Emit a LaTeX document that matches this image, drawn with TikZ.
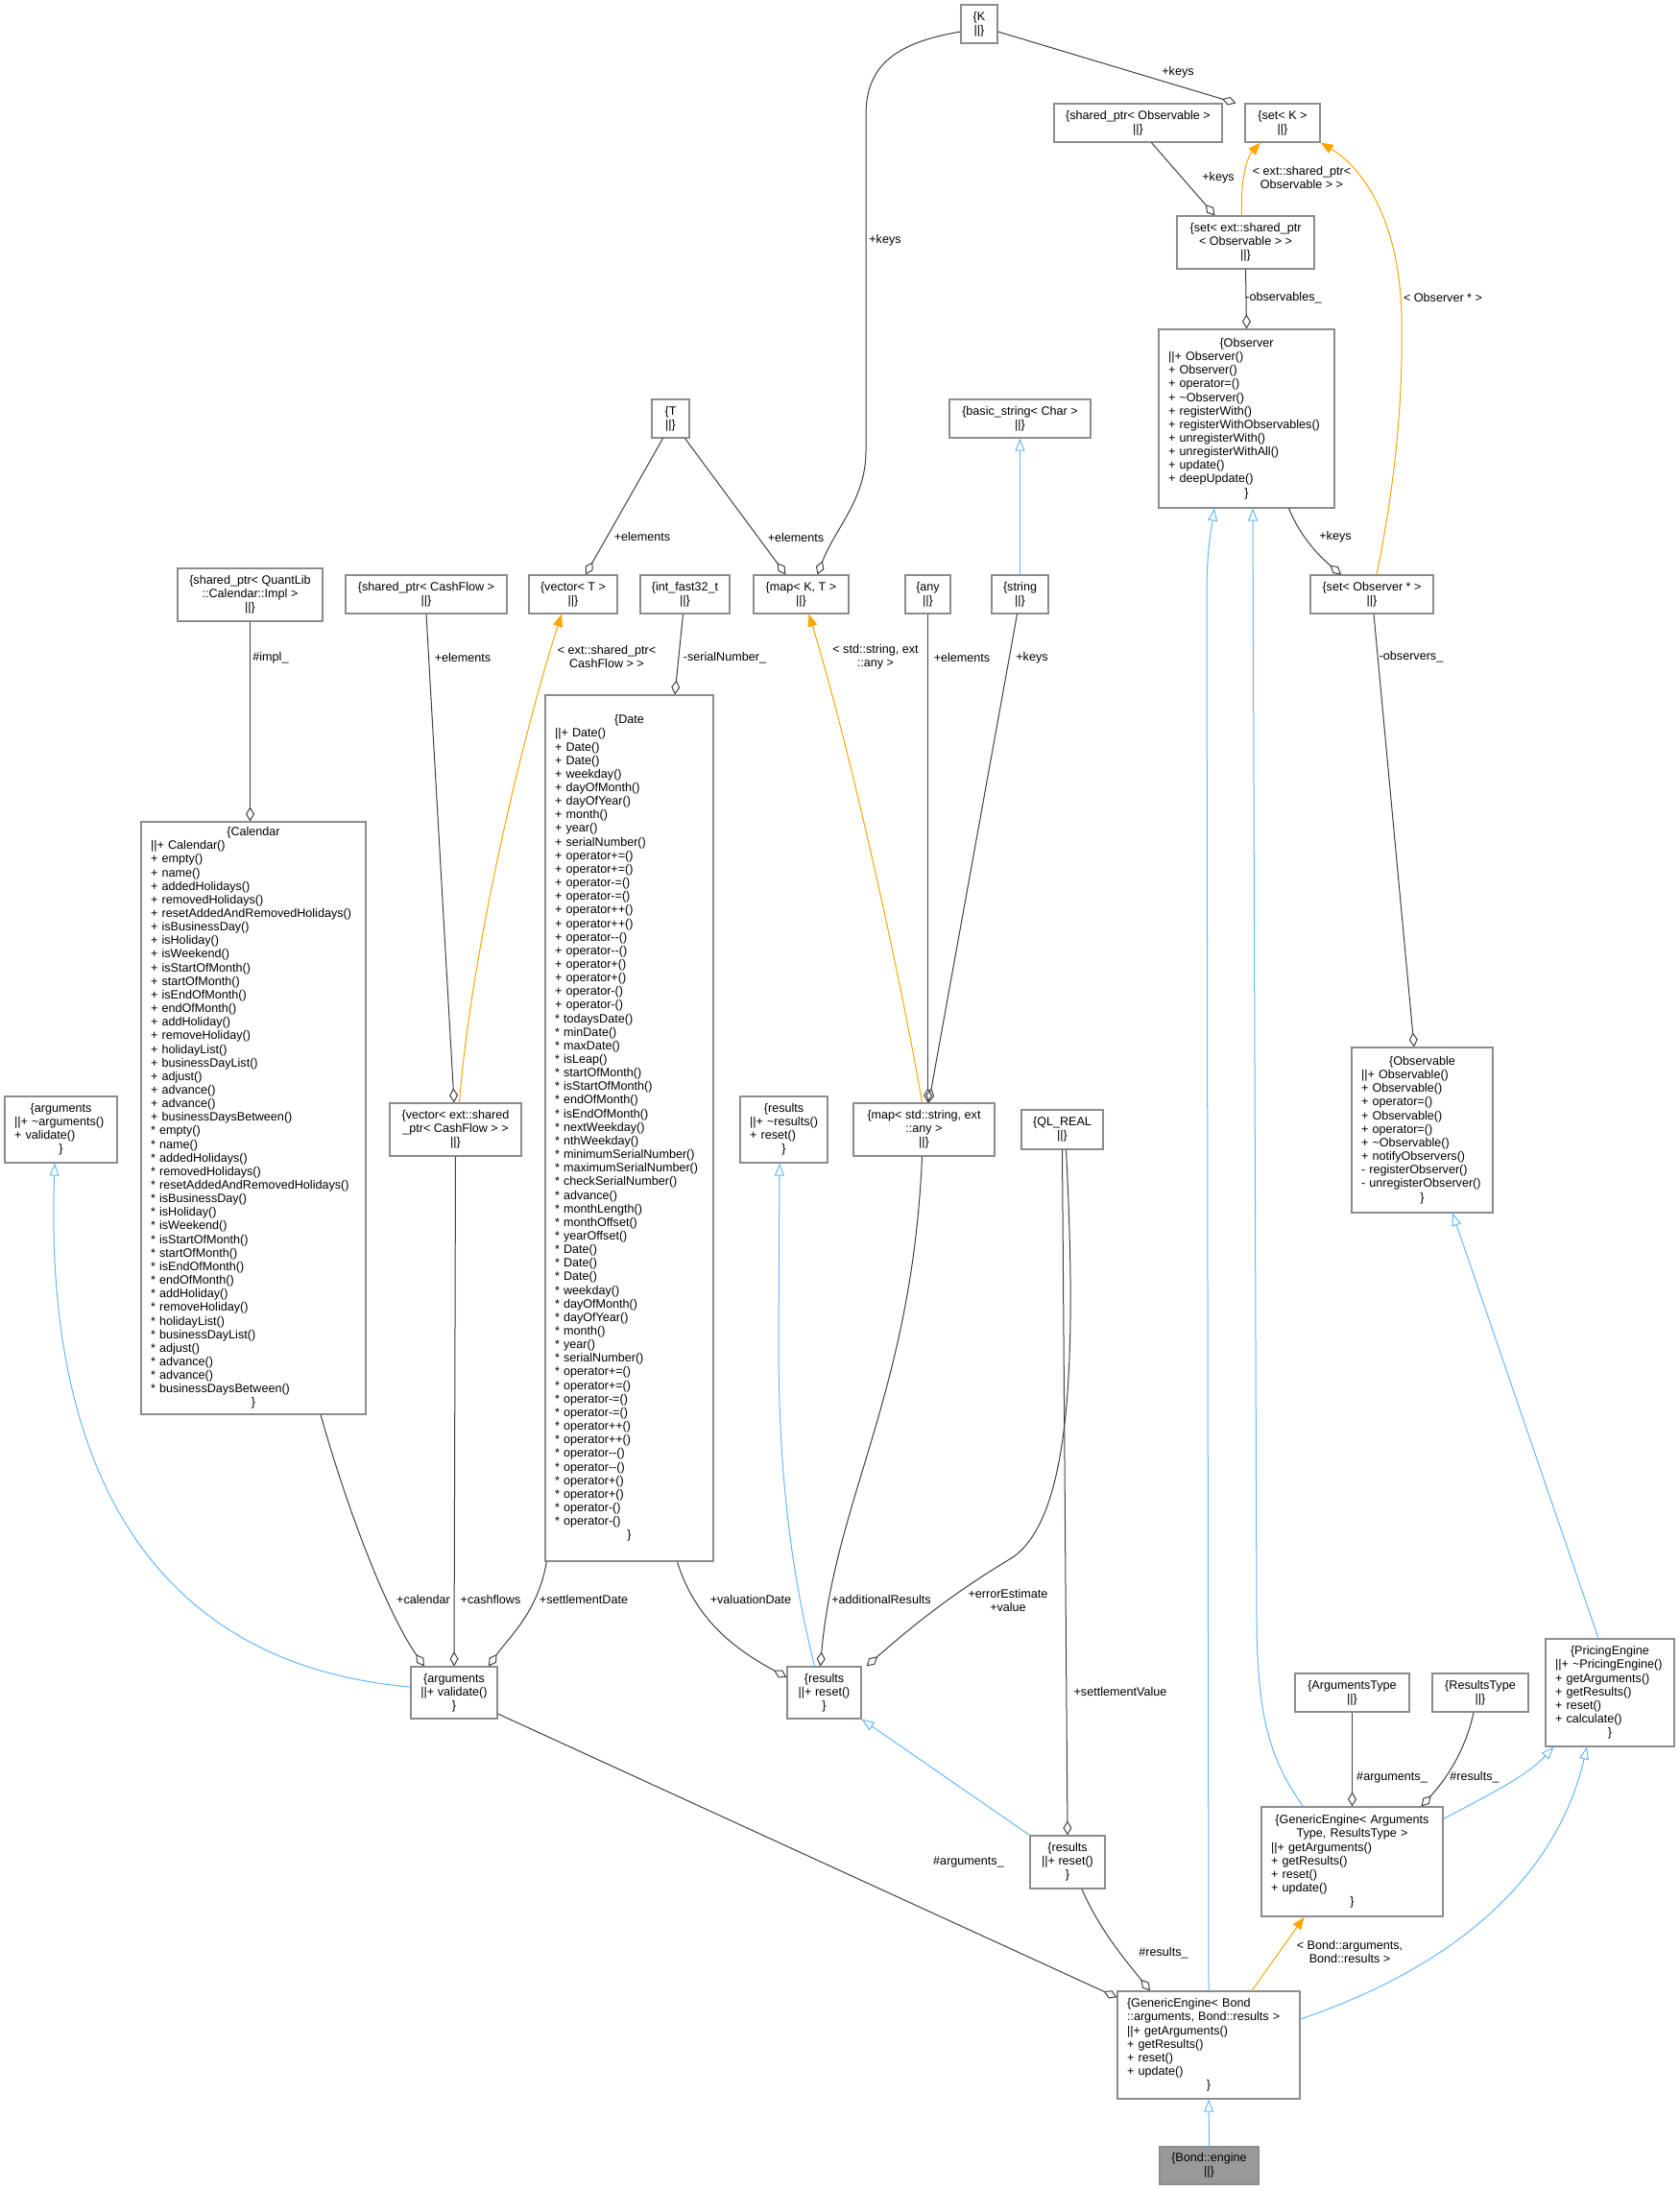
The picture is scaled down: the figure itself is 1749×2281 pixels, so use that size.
\documentclass[tikz,border=0pt]{standalone}
\usepackage{fontspec}
\setmainfont{Liberation Sans}
\usetikzlibrary{arrows.meta}
\definecolor{edgegray}{HTML}{404040}
\definecolor{boxgray}{HTML}{8C8C8C}
\definecolor{inhblue}{HTML}{63B8FF}
\definecolor{tmplorange}{HTML}{FFA500}
\definecolor{selfgray}{HTML}{999999}
\newcommand{\dxfont}{\fontsize{12.6}{14.15}\selectfont}
\newcommand{\hd}[1]{\makebox[\linewidth]{#1}}

\begin{document}
\begin{tikzpicture}[x=1pt,y=-1pt]
  \tikzstyle{cls}=[draw=boxgray,line width=1.2pt,fill=white,inner sep=0pt,font=\dxfont,align=center]
  \tikzstyle{mem}=[cls,align=left,inner xsep=10pt]
  \tikzstyle{lbl}=[font=\dxfont,inner sep=0pt,align=center]
  \tikzstyle{has}=[draw=edgegray,line width=1pt,-{Diamond[open,length=15pt,width=9pt]}]
  \tikzstyle{isa}=[draw=inhblue,line width=1pt,-{Triangle[open,length=13pt,width=10pt]}]
  \tikzstyle{tmpl}=[draw=tmplorange,line width=1pt,-{Triangle[fill=tmplorange,length=13pt,width=10pt]}]

  \fill[white,use as bounding box] (0,0) rectangle (1749,2281);

  \node[cls,minimum width=38pt,minimum height=40pt] (k) at (1020,25) {\{K\\||\}};
  \node[cls,minimum width=78pt,minimum height=40pt] (setK) at (1336,128) {\{set< K >\\||\}};
  \node[cls,minimum width=175pt,minimum height=40pt] (sptrObs) at (1185.5,128) {\{shared\_ptr< Observable >\\||\}};
  \node[cls,minimum width=143pt,minimum height=55pt] (setSptrObs) at (1297.5,252.5)
    {\{set< ext::shared\_ptr\\< Observable > >\\||\}};
  \node[mem,text width=163pt,minimum height=186pt] (observer) at (1298.5,436) {\hd{\{Observer}\\
    ||+ Observer()\\
    + Observer()\\
    + operator=()\\
    + \textasciitilde Observer()\\
    + registerWith()\\
    + registerWithObservables()\\
    + unregisterWith()\\
    + unregisterWithAll()\\
    + update()\\
    + deepUpdate()\\
    \hd{\}}};
  \node[cls,minimum width=128pt,minimum height=40pt] (setObserver) at (1429,619) {\{set< Observer * >\\||\}};
  \node[cls,minimum width=39pt,minimum height=40pt] (t) at (698.5,436) {\{T\\||\}};
  \node[cls,minimum width=147pt,minimum height=40pt] (basicString) at (1062.5,436) {\{basic\_string< Char >\\||\}};
  \node[cls,minimum width=151pt,minimum height=55pt] (sptrImpl) at (260.5,619.5)
    {\{shared\_ptr< QuantLib\\::Calendar::Impl >\\||\}};
  \node[cls,minimum width=168pt,minimum height=40pt] (sptrCF) at (444,619) {\{shared\_ptr< CashFlow >\\||\}};
  \node[cls,minimum width=92pt,minimum height=40pt] (vectorT) at (597,619) {\{vector< T >\\||\}};
  \node[cls,minimum width=93pt,minimum height=40pt] (intFast) at (713.5,619) {\{int\_fast32\_t\\||\}};
  \node[cls,minimum width=99pt,minimum height=40pt] (mapKT) at (834.5,619) {\{map< K, T >\\||\}};
  \node[cls,minimum width=47pt,minimum height=40pt] (any) at (966.5,619) {\{any\\||\}};
  \node[cls,minimum width=59pt,minimum height=40pt] (string) at (1062.5,619) {\{string\\||\}};

  \node[mem,text width=214pt,minimum height=617pt] (calendar) at (264,1164.5) {\hd{\{Calendar}\\
    ||+ Calendar()\\
    + empty()\\
    + name()\\
    + addedHolidays()\\
    + removedHolidays()\\
    + resetAddedAndRemovedHolidays()\\
    + isBusinessDay()\\
    + isHoliday()\\
    + isWeekend()\\
    + isStartOfMonth()\\
    + startOfMonth()\\
    + isEndOfMonth()\\
    + endOfMonth()\\
    + addHoliday()\\
    + removeHoliday()\\
    + holidayList()\\
    + businessDayList()\\
    + adjust()\\
    + advance()\\
    + advance()\\
    + businessDaysBetween()\\
    {}* empty()\\
    {}* name()\\
    {}* addedHolidays()\\
    {}* removedHolidays()\\
    {}* resetAddedAndRemovedHolidays()\\
    {}* isBusinessDay()\\
    {}* isHoliday()\\
    {}* isWeekend()\\
    {}* isStartOfMonth()\\
    {}* startOfMonth()\\
    {}* isEndOfMonth()\\
    {}* endOfMonth()\\
    {}* addHoliday()\\
    {}* removeHoliday()\\
    {}* holidayList()\\
    {}* businessDayList()\\
    {}* adjust()\\
    {}* advance()\\
    {}* advance()\\
    {}* businessDaysBetween()\\
    \hd{\}}};
  \node[mem,text width=155pt,minimum height=902pt] (date) at (655.5,1175) {\hd{\{Date}\\
    ||+ Date()\\
    + Date()\\
    + Date()\\
    + weekday()\\
    + dayOfMonth()\\
    + dayOfYear()\\
    + month()\\
    + year()\\
    + serialNumber()\\
    + operator+=()\\
    + operator+=()\\
    + operator-=()\\
    + operator-=()\\
    + operator++()\\
    + operator++()\\
    + operator-{}-()\\
    + operator-{}-()\\
    + operator+()\\
    + operator+()\\
    + operator-()\\
    + operator-()\\
    {}* todaysDate()\\
    {}* minDate()\\
    {}* maxDate()\\
    {}* isLeap()\\
    {}* startOfMonth()\\
    {}* isStartOfMonth()\\
    {}* endOfMonth()\\
    {}* isEndOfMonth()\\
    {}* nextWeekday()\\
    {}* nthWeekday()\\
    {}* minimumSerialNumber()\\
    {}* maximumSerialNumber()\\
    {}* checkSerialNumber()\\
    {}* advance()\\
    {}* monthLength()\\
    {}* monthOffset()\\
    {}* yearOffset()\\
    {}* Date()\\
    {}* Date()\\
    {}* Date()\\
    {}* weekday()\\
    {}* dayOfMonth()\\
    {}* dayOfYear()\\
    {}* month()\\
    {}* year()\\
    {}* serialNumber()\\
    {}* operator+=()\\
    {}* operator+=()\\
    {}* operator-=()\\
    {}* operator-=()\\
    {}* operator++()\\
    {}* operator++()\\
    {}* operator-{}-()\\
    {}* operator-{}-()\\
    {}* operator+()\\
    {}* operator+()\\
    {}* operator-()\\
    {}* operator-()\\
    \hd{\}}};
  \node[mem,text width=97pt,minimum height=69pt] (argsBase) at (63.5,1176.5) {\hd{\{arguments}\\
    ||+ \textasciitilde arguments()\\
    + validate()\\
    \hd{\}}};
  \node[cls,minimum width=137pt,minimum height=55pt] (vectorSptrCF) at (474.5,1176.5)
    {\{vector< ext::shared\\\_ptr< CashFlow > >\\||\}};
  \node[mem,text width=71pt,minimum height=69pt] (resultsBase) at (816.5,1176.5) {\hd{\{results}\\
    ||+ \textasciitilde results()\\
    + reset()\\
    \hd{\}}};
  \node[cls,minimum width=147pt,minimum height=55pt] (mapStrAny) at (962.5,1176.5)
    {\{map< std::string, ext\\::any >\\||\}};
  \node[cls,minimum width=85pt,minimum height=41pt] (qlReal) at (1106.5,1176.5) {\{QL\_REAL\\||\}};
  \node[mem,text width=127pt,minimum height=172pt] (observable) at (1481.5,1177) {\hd{\{Observable}\\
    ||+ Observable()\\
    + Observable()\\
    + operator=()\\
    + Observable()\\
    + operator=()\\
    + \textasciitilde Observable()\\
    + notifyObservers()\\
    - registerObserver()\\
    - unregisterObserver()\\
    \hd{\}}};

  \node[cls,minimum width=90pt,minimum height=54pt] (argsBond) at (473,1763) {\{arguments\\||+ validate()\\\}};
  \node[cls,minimum width=77pt,minimum height=54pt] (resultsBond) at (858.5,1763) {\{results\\||+ reset()\\\}};
  \node[mem,text width=114pt,minimum height=112pt] (pricingEngine) at (1677,1763) {\hd{\{PricingEngine}\\
    ||+ \textasciitilde PricingEngine()\\
    + getArguments()\\
    + getResults()\\
    + reset()\\
    + calculate()\\
    \hd{\}}};
  \node[cls,minimum width=119pt,minimum height=40pt] (argumentsType) at (1408.5,1763) {\{ArgumentsType\\||\}};
  \node[cls,minimum width=100pt,minimum height=40pt] (resultsType) at (1542,1763) {\{ResultsType\\||\}};
  \node[cls,minimum width=78pt,minimum height=55pt] (resultsVal) at (1112,1939.5) {\{results\\||+ reset()\\\}};
  \node[mem,text width=169pt,minimum height=114pt] (genericEngine) at (1408.5,1939) {\hd{\{GenericEngine< Arguments}\\
    \hd{Type, ResultsType >}\\
    ||+ getArguments()\\
    + getResults()\\
    + reset()\\
    + update()\\
    \hd{\}}};
  \node[mem,text width=170pt,minimum height=112pt] (bondGeneric) at (1259,2130) {\{GenericEngine< Bond\\
    ::arguments, Bond::results >\\
    ||+ getArguments()\\
    + getResults()\\
    + reset()\\
    + update()\\
    \hd{\}}};
  \node[cls,fill=selfgray,minimum width=103pt,minimum height=39pt] (bondEngine) at (1259.5,2255.5) {\{Bond::engine\\||\}};

  \draw[has] ([yshift=-8pt]k.east) -- ([xshift=-9pt]setK.north west);
  \draw[has] ([yshift=-8pt]k.west) .. controls (930,45) and (902,70) .. (902,120) -- (902,470)
    .. controls (902,520) and (870,550) .. ([xshift=17pt]mapKT.north);
  \draw[has] ([xshift=14pt]sptrObs.south) -- ([xshift=-32pt]setSptrObs.north);
  \draw[tmpl] ([xshift=-4pt]setSptrObs.north) .. controls (1292,190) and (1298,165) .. ([xshift=-23pt]setK.south);
  \draw[tmpl] ([xshift=5pt]setObserver.north) .. controls (1450,520) and (1462,430) .. (1460,330)
    .. controls (1458,230) and (1420,175) .. (setK.south east);
  \draw[has] (setSptrObs.south) -- (observer.north);
  \draw[has] ([xshift=44pt]observer.south) .. controls (1355,560) and (1375,580) .. ([xshift=-32pt]setObserver.north);
  \draw[has] ([xshift=-8pt]t.south) -- ([xshift=13pt]vectorT.north);
  \draw[has] ([xshift=15pt]t.south) -- ([xshift=-16pt]mapKT.north);
  \draw[isa] (string.north) -- (basicString.south);
  \draw[has] (sptrImpl.south) -- (sptrImpl.south |- calendar.north);
  \draw[has] (sptrCF.south) -- ([xshift=-1.5pt]vectorSptrCF.north);
  \draw[tmpl] ([xshift=4pt]vectorSptrCF.north) .. controls (490,1000) and (540,780) .. ([xshift=-12pt]vectorT.south);
  \draw[has] ([xshift=-2pt]intFast.south) -- ([xshift=47.5pt]date.north);
  \draw[tmpl] ([xshift=-2pt]mapStrAny.north) .. controls (935,1000) and (880,760) .. ([xshift=8pt]mapKT.south);
  \draw[has] (any.south) -- (any.south |- mapStrAny.north);
  \draw[has] ([xshift=-3pt]string.south) -- ([xshift=5pt]mapStrAny.north);
  \draw[has] ([xshift=2pt]setObserver.south) -- ([xshift=-8.5pt]observable.north);
  \draw[isa] ([yshift=6pt]argsBond.west) .. controls (170,1735) and (45,1545) .. ([xshift=-6.5pt]argsBase.south);
  \draw[has] ([xshift=70pt]calendar.south) .. controls (370,1600) and (410,1690) .. ([xshift=-31pt]argsBond.north);
  \draw[has] (vectorSptrCF.south) -- (argsBond.north);
  \draw[has] ([xshift=2pt]date.south west) .. controls (560,1680) and (530,1705) .. ([xshift=36pt]argsBond.north);
  \draw[has] ([xshift=50pt]date.south) .. controls (725,1690) and (770,1720) .. ([yshift=16pt]resultsBond.west);
  \draw[isa] ([xshift=-10pt]resultsBond.north) .. controls (830,1660) and (811,1560) .. (811,1400)
    -- ([xshift=-4.5pt]resultsBase.south);
  \draw[has] ([xshift=-2pt]mapStrAny.south) .. controls (950,1450) and (870,1560) .. ([xshift=-4pt]resultsBond.north);
  \draw[has] ([xshift=4pt]qlReal.south) .. controls (1122,1420) and (1115,1580) .. (1055,1622)
    .. controls (1000,1655) and (960,1685) .. ([xshift=5pt]resultsBond.north east);
  \draw[has] (qlReal.south) -- (resultsVal.north);
  \draw[isa] (resultsVal.north west) -- (resultsBond.south east);
  \draw[isa] ([xshift=-12pt]pricingEngine.north) -- ([xshift=31.5pt]observable.south);
  \draw[has] (argumentsType.south) -- (genericEngine.north);
  \draw[has] ([xshift=-7pt]resultsType.south) .. controls (1525,1830) and (1500,1860) .. ([xshift=72pt]genericEngine.north);
  \draw[isa] ([yshift=-13pt]genericEngine.north east) .. controls (1550,1870) and (1590,1850) .. ([xshift=9pt]pricingEngine.south west);
  \draw[isa] ([xshift=-51pt]genericEngine.north) .. controls (1320,1830) and (1310,1780) .. (1309,1690)
    -- ([xshift=6.5pt]observer.south);
  \draw[isa] (bondGeneric.north) -- (1257,620) .. controls (1257,570) and (1262,550) .. ([xshift=-33.5pt]observer.south);
  \draw[isa] ([yshift=27pt]bondGeneric.east) .. controls (1510,2050) and (1620,1960) .. ([xshift=-24pt]pricingEngine.south);
  \draw[tmpl] ([xshift=45pt]bondGeneric.north) -- ([xshift=-50pt]genericEngine.south);
  \draw[has] ([xshift=15pt]resultsVal.south) .. controls (1145,2010) and (1175,2045) .. ([xshift=-61pt]bondGeneric.north);
  \draw[has] ([yshift=-22pt]argsBond.east) -- ([yshift=-7pt]bondGeneric.north west);
  \draw[isa] (bondEngine.north) -- (bondGeneric.south);

  \node[lbl] (lKeysSet) at (1227,75) {+keys};
  \node[lbl] (lKeysMap) at (922,250) {+keys};
  \node[lbl] (lKeysObs) at (1269,185) {+keys};
  \node[lbl] (lSetSptr) at (1356,185) {< ext::shared\_ptr<\\Observable > >};
  \node[lbl] (lSetObserver) at (1503,310) {< Observer * >};
  \node[lbl] (lObservables) at (1337,310) {-observables\_};
  \node[lbl] (lKeysObserver) at (1391,559) {+keys};
  \node[lbl] (lElemVector) at (669,559) {+elements};
  \node[lbl] (lElemMap) at (829,560) {+elements};
  \node[lbl] (lImpl) at (282,685) {\#impl\_};
  \node[lbl] (lElemCF) at (482,685) {+elements};
  \node[lbl] (lVectorCF) at (632,684) {< ext::shared\_ptr<\\CashFlow > >};
  \node[lbl] (lSerial) at (755,685) {-serialNumber\_};
  \node[lbl] (lMapStrAny) at (912,684) {< std::string, ext\\::any >};
  \node[lbl] (lElemAny) at (1002,685) {+elements};
  \node[lbl] (lKeysString) at (1075,685) {+keys};
  \node[lbl] (lObservers) at (1470,684) {-observers\_};
  \node[lbl] (lCalendar) at (441,1666) {+calendar};
  \node[lbl] (lCashflows) at (511,1666) {+cashflows};
  \node[lbl] (lSettleDate) at (608,1666) {+settlementDate};
  \node[lbl] (lValDate) at (782,1666) {+valuationDate};
  \node[lbl] (lAddResults) at (918,1666) {+additionalResults};
  \node[lbl] (lErrValue) at (1050,1667) {+errorEstimate\\+value};
  \node[lbl] (lSettleValue) at (1167,1762) {+settlementValue};
  \node[lbl] (lArgsType) at (1450,1851) {\#arguments\_};
  \node[lbl] (lResType) at (1536,1851) {\#results\_};
  \node[lbl] (lBondTmpl) at (1406,2033) {< Bond::arguments,\\Bond::results >};
  \node[lbl] (lResBond) at (1212,2034) {\#results\_};
  \node[lbl] (lArgsBond) at (1009,1939) {\#arguments\_};
\end{tikzpicture}
\end{document}
